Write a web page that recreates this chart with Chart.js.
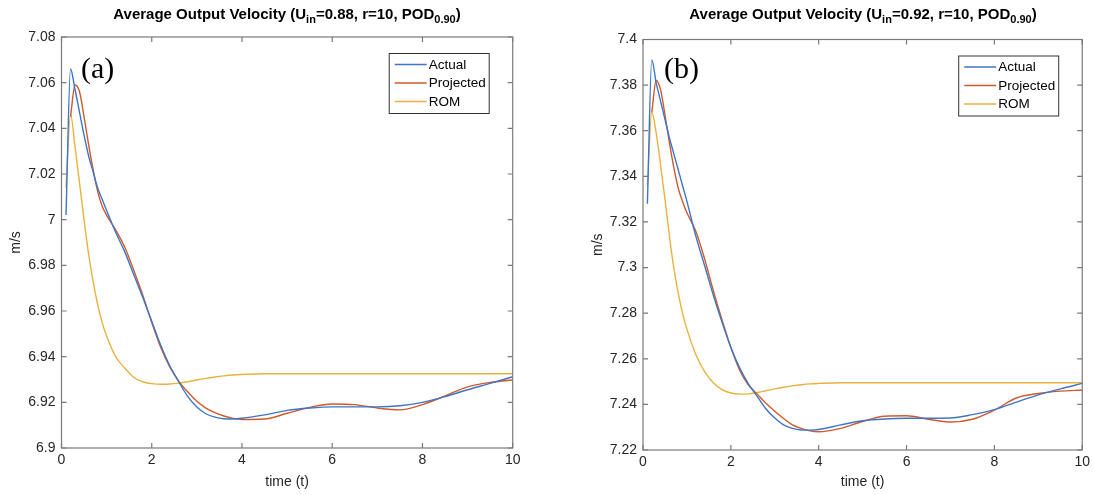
<!DOCTYPE html>
<html>
<head>
<meta charset="utf-8">
<script src="https://cdn.jsdelivr.net/npm/chart.js@4.4.1/dist/chart.umd.min.js"></script>
<style>
  html, body { margin: 0; padding: 0; background: #fff; }
  #wrap { position: relative; width: 1094px; height: 495px; overflow: hidden; }
  .panel { position: absolute; top: 0; width: 547px; height: 495px; }
  .title {
    position: absolute; top: 5px; white-space: nowrap; transform: translateX(-50%);
    font: bold 15px "Liberation Sans", Arial, sans-serif; color: #000; line-height: 17px;
  }
  .title sub { font-size: 11px; vertical-align: -4px; line-height: 0; }
  .tag { position: absolute; font: 30px "Liberation Serif", "Times New Roman", serif; color: #000; line-height: 30px; }
</style>
</head>
<body>
<div id="wrap">
  <div class="panel" style="left:0"><canvas id="chartA" width="547" height="495"></canvas></div>
  <div class="panel" style="left:547px"><canvas id="chartB" width="547" height="495"></canvas></div>
  <div class="title" style="left:287px">Average Output Velocity (U<sub>in</sub>=0.88, r=10, POD<sub>0.90</sub>)</div>
  <div class="title" style="left:863px">Average Output Velocity (U<sub>in</sub>=0.92, r=10, POD<sub>0.90</sub>)</div>
  <div class="tag" style="left:81px; top:53px">(a)</div>
  <div class="tag" style="left:664px; top:53px">(b)</div>
</div>
<script>
/* === DATA === */
const times = [0.1, 0.2, 0.3, 0.4, 0.5, 0.6, 0.7, 0.8, 0.9, 1.0, 1.2, 1.4, 1.6, 1.8, 2.0, 2.2, 2.4, 2.6, 2.8, 3.0,
  3.2, 3.4, 3.6, 3.8, 4.0, 4.5, 5.0, 5.5, 6.0, 6.5, 7.0, 7.5, 8.0, 8.5, 9.0, 9.5, 10];

const seriesNames = ["Actual", "Projected", "ROM"];

// panel (a), U_in = 0.88
const actualA = [7.002, 7.066, 7.057, 7.047, 7.037, 7.028, 7.021, 7.014, 7.009, 7.004, 6.9945, 6.986, 6.976, 6.966,
  6.9555, 6.945, 6.936, 6.929, 6.9225, 6.918, 6.915, 6.9135, 6.9128, 6.9127, 6.913, 6.9145, 6.9165, 6.9175, 6.918,
  6.918, 6.918, 6.9185, 6.920, 6.9225, 6.9255, 6.9283, 6.9312];
const projectedA = [null, 7.045, 7.059, 7.056, 7.045, 7.033, 7.022, 7.0125, 7.006, 7.002, 6.9955, 6.988, 6.978, 6.967,
  6.955, 6.944, 6.9355, 6.9292, 6.9245, 6.9205, 6.9175, 6.9155, 6.914, 6.913, 6.9125, 6.9127, 6.9152, 6.9178, 6.9193,
  6.919, 6.9175, 6.9167, 6.919, 6.9228, 6.9268, 6.9287, 6.9298];
const romA = [7.014, 7.046, 7.032, 7.016, 7.000, 6.985, 6.973, 6.963, 6.955, 6.949, 6.940, 6.935, 6.931, 6.929,
  6.9282, 6.9279, 6.928, 6.9284, 6.929, 6.9298, 6.9305, 6.9311, 6.9316, 6.932, 6.9322, 6.9325, 6.9325, 6.9325, 6.9325,
  6.9325, 6.9325, 6.9325, 6.9325, 6.9325, 6.9325, 6.9325, 6.9325];

// panel (b), U_in = 0.92
const actualB = [7.328, 7.391, 7.381, 7.373, 7.365, 7.357, 7.350, 7.343, 7.336, 7.329, 7.314, 7.301, 7.288, 7.276,
  7.265, 7.256, 7.249, 7.2435, 7.238, 7.234, 7.231, 7.2295, 7.2288, 7.2287, 7.229, 7.231, 7.2328, 7.2336, 7.2339,
  7.2339, 7.234, 7.2355, 7.2377, 7.241, 7.2442, 7.2468, 7.2492];
const projectedB = [null, 7.368, 7.382, 7.378, 7.367, 7.355, 7.344, 7.335, 7.329, 7.324, 7.316, 7.304, 7.290, 7.277,
  7.265, 7.255, 7.2485, 7.2445, 7.2405, 7.237, 7.2338, 7.231, 7.2295, 7.2284, 7.228, 7.2295, 7.2325, 7.2348, 7.235,
  7.2335, 7.2323, 7.2335, 7.2375, 7.2428, 7.2448, 7.2458, 7.2463];
const romB = [7.336, 7.368, 7.359, 7.345, 7.330, 7.314, 7.300, 7.289, 7.280, 7.273, 7.262, 7.2545, 7.2495, 7.2465,
  7.245, 7.2445, 7.2446, 7.2452, 7.246, 7.2468, 7.2475, 7.2481, 7.2486, 7.249, 7.2492, 7.2495, 7.2495, 7.2495, 7.2495,
  7.2495, 7.2495, 7.2495, 7.2495, 7.2495, 7.2495, 7.2495, 7.2495];

const xTicks = [0, 2, 4, 6, 8, 10];
const yTicksA = [6.9, 6.92, 6.94, 6.96, 6.98, 7.0, 7.02, 7.04, 7.06, 7.08];
const yTicksB = [7.22, 7.24, 7.26, 7.28, 7.3, 7.32, 7.34, 7.36, 7.38, 7.4];

/* === STYLE === */
const COLORS = ["#3c76c8", "#d2592a", "#e8b23c"];
const AXIS_COLOR = "#7a7a7a";
const TEXT_COLOR = "#262626";
const FONT = "'Liberation Sans', Arial, sans-serif";

function pairs(values) {
  const out = [];
  values.forEach((v, i) => { if (v !== null) out.push({ x: times[i], y: v }); });
  return out;
}

function fmt(v) {
  return String(Number(v.toFixed(2)));
}

/* axes box with inward ticks + boxed legend, like a matlab figure */
const matlabBox = {
  id: "matlabBox",
  afterDraw(chart, args, opts) {
    const { ctx, chartArea: a, scales } = chart;
    ctx.save();
    ctx.strokeStyle = AXIS_COLOR;
    ctx.lineWidth = 1.2;
    ctx.strokeRect(a.left, a.top, a.right - a.left, a.bottom - a.top);

    const tl = 5;
    ctx.beginPath();
    scales.x.ticks.forEach(tk => {
      const px = scales.x.getPixelForValue(tk.value);
      ctx.moveTo(px, a.bottom); ctx.lineTo(px, a.bottom - tl);
      ctx.moveTo(px, a.top); ctx.lineTo(px, a.top + tl);
    });
    scales.y.ticks.forEach(tk => {
      const py = scales.y.getPixelForValue(tk.value);
      ctx.moveTo(a.left, py); ctx.lineTo(a.left + tl, py);
      ctx.moveTo(a.right, py); ctx.lineTo(a.right - tl, py);
    });
    ctx.stroke();

    // legend
    const w = 100, h = 60;
    const lx = a.right - opts.legendRight - w;
    const ly = a.top + opts.legendTop;
    ctx.fillStyle = "#fff";
    ctx.fillRect(lx, ly, w, h);
    ctx.strokeStyle = "#333";
    ctx.lineWidth = 1;
    ctx.strokeRect(lx + 0.5, ly + 0.5, w, h);
    ctx.font = "13.5px " + FONT;
    ctx.textBaseline = "middle";
    ctx.fillStyle = "#000";
    chart.data.datasets.forEach((ds, i) => {
      const ry = ly + 11.5 + i * 18.5;
      ctx.strokeStyle = ds.borderColor;
      ctx.lineWidth = 1.5;
      ctx.beginPath();
      ctx.moveTo(lx + 6, ry); ctx.lineTo(lx + 38, ry);
      ctx.stroke();
      ctx.fillText(ds.label, lx + 40, ry + 0.5);
    });
    ctx.restore();
  }
};

function makeChart(id, series, yTicks, pad, plotBottom, yWidth) {
  const yMin = yTicks[0], yMax = yTicks[yTicks.length - 1];
  return new Chart(document.getElementById(id), {
    type: "line",
    data: {
      datasets: series.map((vals, i) => ({
        label: seriesNames[i],
        data: pairs(vals),
        borderColor: COLORS[i],
        borderWidth: 1.4,
        pointRadius: 0,
        fill: false,
        cubicInterpolationMode: "monotone"
      }))
    },
    options: {
      responsive: false,
      animation: false,
      events: [],
      layout: { padding: pad },
      plugins: {
        legend: { display: false },
        tooltip: { enabled: false },
        matlabBox: { legendRight: 24, legendTop: 16 }
      },
      scales: {
        x: {
          type: "linear", min: 0, max: 10,
          grid: { display: false, drawTicks: false }, border: { display: false },
          afterBuildTicks: s => { s.ticks = xTicks.map(v => ({ value: v })); },
          afterFit: s => { s.height = 495 - pad.bottom - plotBottom; },
          ticks: { color: TEXT_COLOR, font: { family: FONT, size: 14 }, padding: 4, maxRotation: 0, callback: v => fmt(v) },
          title: { display: true, text: "time (t)", color: TEXT_COLOR, font: { family: FONT, size: 14 }, padding: { top: 0, bottom: 4 } }
        },
        y: {
          type: "linear", min: yMin, max: yMax,
          grid: { display: false, drawTicks: false }, border: { display: false },
          afterBuildTicks: s => { s.ticks = yTicks.map(v => ({ value: v })); },
          afterFit: s => { s.width = yWidth; },
          ticks: { color: TEXT_COLOR, font: { family: FONT, size: 14 }, padding: 6, callback: v => fmt(v) },
          title: { display: true, text: "m/s", color: TEXT_COLOR, font: { family: FONT, size: 14 }, padding: { top: 4, bottom: 4 } }
        }
      }
    },
    plugins: [matlabBox]
  });
}

makeChart("chartA", [actualA, projectedA, romA], yTicksA,
  { left: 4, right: 34.3, top: 37, bottom: 0 }, 448, 57.5);
makeChart("chartB", [actualB, projectedB, romB], yTicksB,
  { left: 38.5, right: 11.5, top: 39.5, bottom: 0 }, 450, 57.5);
</script>
</body>
</html>
